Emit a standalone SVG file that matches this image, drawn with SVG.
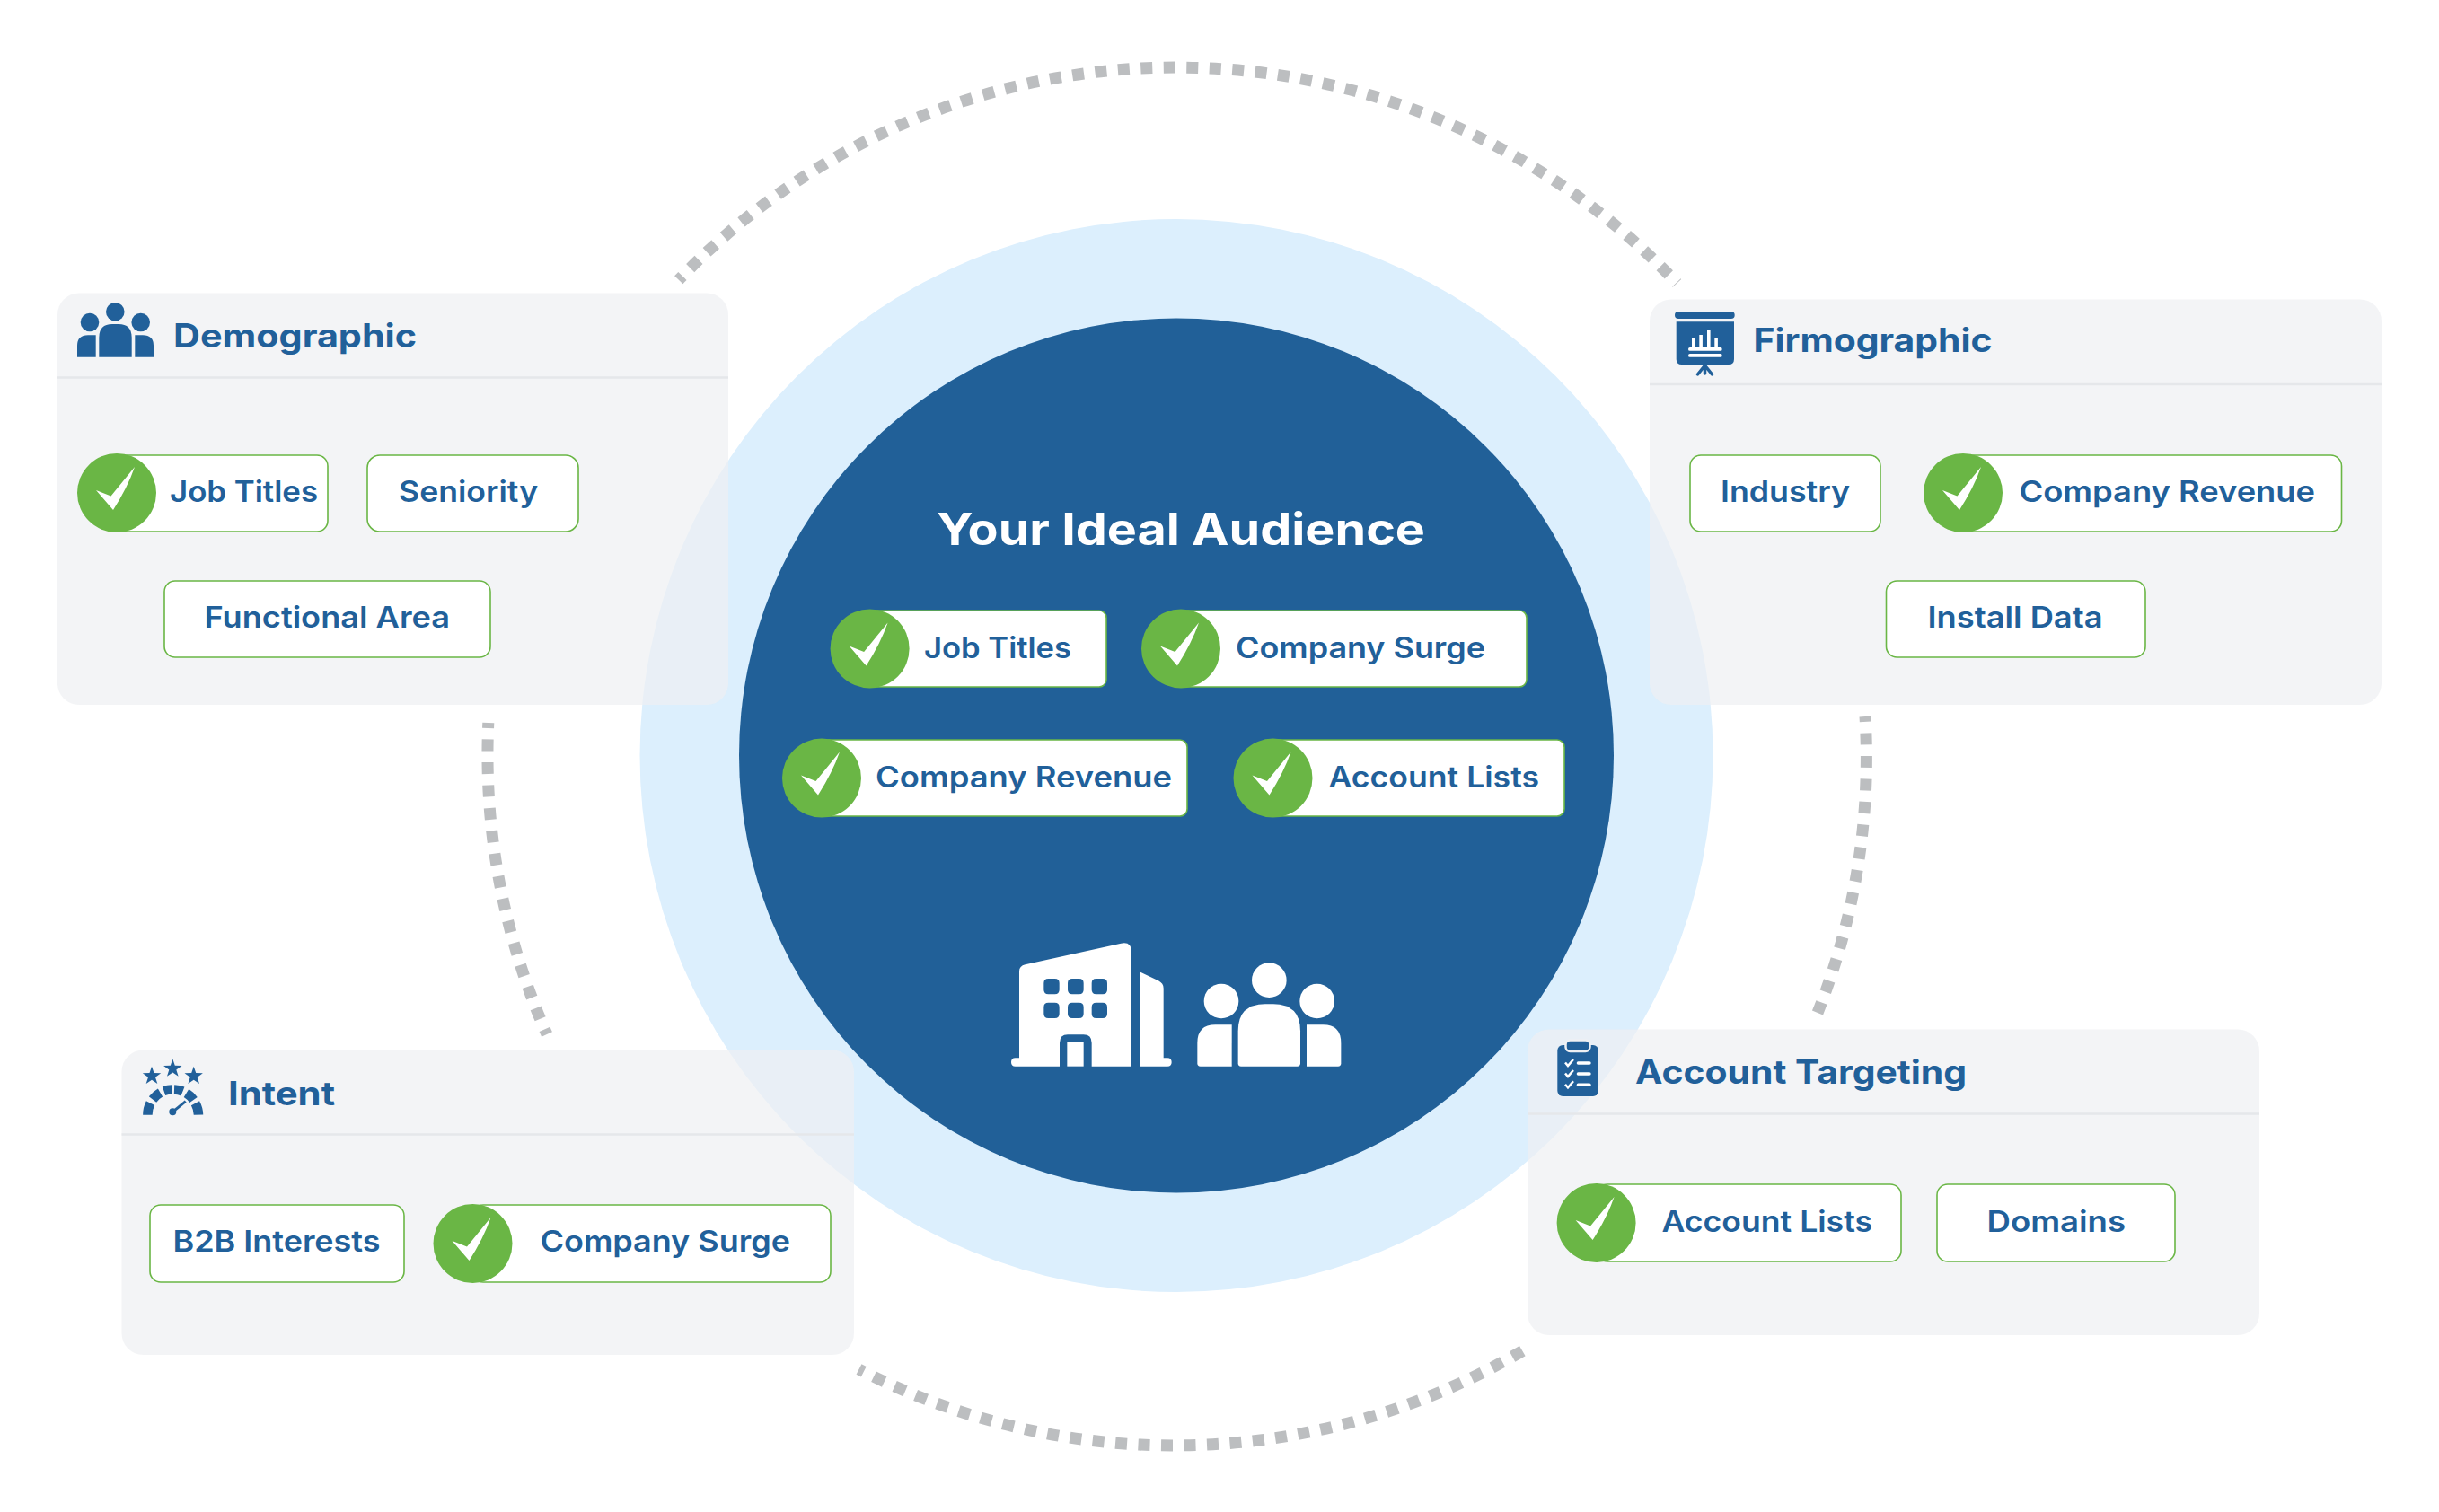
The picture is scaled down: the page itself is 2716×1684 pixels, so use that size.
<svg xmlns="http://www.w3.org/2000/svg" xmlns:xlink="http://www.w3.org/1999/xlink" width="2716" height="1684" viewBox="0 0 2716 1684">
<style>
text{font-family:"Inter","Open Sans","Liberation Sans",sans-serif;fill:#21609a;font-weight:600}
.lbl{font-size:32px}
.ttl{font-size:37px;font-weight:700}
.panel{fill:#eeeff2;fill-opacity:.7}
.div{stroke:#e5e7ea;stroke-width:2.5}
.pill{fill:#fff;stroke:#6ab645;stroke-width:1.600}
.dot{fill:#6ab645}
.arc{fill:none;stroke:#bcbec0;stroke-width:13;stroke-dasharray:13 12.500;stroke-dashoffset:7}
.ic{fill:#21609a}
.wh{fill:#fff}
</style>
<defs>
<g id="ck"><circle class="dot" r="44"/><path class="wh" d="M-23-3L-6.500 3.500L20-29Q12-6-4 19Z"/></g>
</defs>
<rect width="2716" height="1684" fill="#fff"/>
<g id="connectors">
<path class="arc" d="M755.800 311.700A767 767 0 0 1 1867.500 315.400"/>
<path class="arc" d="M543.800 805A767 767 0 0 0 609 1152"/>
<path class="arc" d="M2077 798A767 767 0 0 1 2024 1128"/>
<path class="arc" d="M956.500 1525A767 767 0 0 0 1703 1500"/>
</g>
<circle id="halo" cx="1310" cy="841.500" r="597.500" fill="#dceffd"/>
<g id="center">
<circle cx="1310" cy="841.500" r="487" fill="#216098"/>
<text x="1043" y="607" class="wh" style="font-size:50px;font-weight:700;fill:#fff" textLength="544" lengthAdjust="spacingAndGlyphs">Your Ideal Audience</text>
<g id="c-job"><rect class="pill" x="969" y="680" width="263" height="85" rx="8"/><use xlink:href="#ck" href="#ck" x="968.600" y="722.400"/><text class="lbl" x="1029" y="733" textLength="164" lengthAdjust="spacingAndGlyphs">Job Titles</text></g>
<g id="c-surge"><rect class="pill" x="1315" y="680" width="385" height="85" rx="8"/><use xlink:href="#ck" href="#ck" x="1315" y="722.400"/><text class="lbl" x="1376" y="733" textLength="278" lengthAdjust="spacingAndGlyphs">Company Surge</text></g>
<g id="c-rev"><rect class="pill" x="915" y="824" width="407" height="85" rx="8"/><use xlink:href="#ck" href="#ck" x="915" y="866.600"/><text class="lbl" x="975" y="877" textLength="330" lengthAdjust="spacingAndGlyphs">Company Revenue</text></g>
<g id="c-acc"><rect class="pill" x="1417" y="824" width="325" height="85" rx="8"/><use xlink:href="#ck" href="#ck" x="1417.500" y="866.600"/><text class="lbl" x="1479.500" y="877" textLength="234.500" lengthAdjust="spacingAndGlyphs">Account Lists</text></g>
<g id="c-icon" transform="translate(1100 1030) scale(.33333)">
<path class="wh" fill-rule="evenodd" d="M105 445V155Q105 138 125 133L445 62Q480 55 480 90V473H347V395Q347 367 320 367H267Q240 367 240 395V473H92Q78 473 78 459Q78 445 92 445ZM187 195V217Q187 232 202 232H224Q239 232 239 217V195Q239 180 224 180H202Q187 180 187 195ZM267 195V217Q267 232 282 232H305Q320 232 320 217V195Q320 180 305 180H282Q267 180 267 195ZM347 195V217Q347 232 362 232H384Q399 232 399 217V195Q399 180 384 180H362Q347 180 347 195ZM187 275V297Q187 312 202 312H224Q239 312 239 297V275Q239 260 224 260H202Q187 260 187 275ZM267 275V297Q267 312 282 312H305Q320 312 320 297V275Q320 260 305 260H282Q267 260 267 275ZM347 275V297Q347 312 362 312H384Q399 312 399 297V275Q399 260 384 260H362Q347 260 347 275Z"/>
<rect class="wh" x="265" y="392" width="55" height="81"/>
<path class="wh" d="M507 157L570 187Q587 196 587 212V445H600Q614 445 614 459Q614 473 600 473H507Z"/>
<circle class="wh" cx="940" cy="185" r="58"/><circle class="wh" cx="780" cy="255" r="58"/><circle class="wh" cx="1100" cy="255" r="58"/>
<path class="wh" d="M836 463V355Q836 265 926 265H954Q1044 265 1044 355V463Q1044 473 1034 473H846Q836 473 836 463Z"/>
<path class="wh" d="M700 463V395Q700 334 760 334H815V473H710Q700 473 700 463Z"/>
<path class="wh" d="M1180 463V395Q1180 334 1120 334H1065V473H1170Q1180 473 1180 463Z"/>
</g>
</g>
<g id="demographic">
<rect class="panel" x="64" y="326.500" width="747" height="458.500" rx="24"/>
<line class="div" x1="64" y1="420.500" x2="811" y2="420.500"/>
<g class="ic"><circle cx="128.300" cy="347.300" r="10.300"/><circle cx="100" cy="359" r="10.300"/><circle cx="156.700" cy="359" r="10.300"/>
<path d="M110.300 397.700V376Q110.300 361 125 361H132Q146.700 361 146.700 376V397.700Z"/><path d="M86 397.700V385Q86 373.300 98 373.300H106.700V397.700Z"/><path d="M171 397.700V385Q171 373.300 159 373.300H150.300V397.700Z"/></g>
<text class="ttl" x="193.100" y="386.700" textLength="271" lengthAdjust="spacingAndGlyphs">Demographic</text>
<g id="d-job"><rect class="pill" x="130" y="507" width="235" height="85" rx="12"/><use xlink:href="#ck" href="#ck" x="130" y="549"/><text class="lbl" x="189" y="559" textLength="165" lengthAdjust="spacingAndGlyphs">Job Titles</text></g>
<g id="d-sen"><rect class="pill" x="409" y="507" width="235" height="85" rx="14"/><text class="lbl" x="444.100" y="559" textLength="155" lengthAdjust="spacingAndGlyphs">Seniority</text></g>
<g id="d-fun"><rect class="pill" x="183" y="647" width="363" height="85" rx="12"/><text class="lbl" x="227.500" y="699" textLength="273.500" lengthAdjust="spacingAndGlyphs">Functional Area</text></g>
</g>
<g id="firmographic">
<rect class="panel" x="1837" y="333.500" width="815" height="451.500" rx="24"/>
<line class="div" x1="1837" y1="428" x2="2652" y2="428"/>
<rect class="ic" x="1865" y="347" width="66.700" height="8" rx="4"/>
<path class="ic" d="M1866.700 358.300H1931V400Q1931 406 1925 406H1872.700Q1866.700 406 1866.700 400Z"/>
<path d="M1898.500 406V416M1898.500 407L1890.500 417M1898.500 407L1906.500 417" stroke="#21609a" stroke-width="3.500" fill="none" stroke-linecap="round"/>
<g class="wh"><rect x="1884" y="377" width="4" height="12"/><rect x="1892.300" y="373" width="3.600" height="16"/><rect x="1901" y="367.300" width="3.600" height="22"/><rect x="1909.300" y="377" width="3.600" height="12"/><rect x="1880" y="387" width="37.700" height="3.800" rx="1.900"/><rect x="1880" y="394" width="37.700" height="3.800" rx="1.900"/></g>
<text class="ttl" x="1952.500" y="392" textLength="266" lengthAdjust="spacingAndGlyphs">Firmographic</text>
<g id="f-ind"><rect class="pill" x="1882" y="507" width="212" height="85" rx="12"/><text class="lbl" x="1916" y="559" textLength="144" lengthAdjust="spacingAndGlyphs">Industry</text></g>
<g id="f-rev"><rect class="pill" x="2186" y="507" width="421.500" height="85" rx="12"/><use xlink:href="#ck" href="#ck" x="2186" y="549"/><text class="lbl" x="2248.500" y="559" textLength="329.500" lengthAdjust="spacingAndGlyphs">Company Revenue</text></g>
<g id="f-ins"><rect class="pill" x="2100.500" y="647" width="288.500" height="85" rx="12"/><text class="lbl" x="2146.500" y="699" textLength="195" lengthAdjust="spacingAndGlyphs">Install Data</text></g>
</g>
<g id="intent">
<rect class="panel" x="135.500" y="1169.500" width="815.500" height="339.500" rx="24"/>
<line class="div" x1="135.500" y1="1263.500" x2="951" y2="1263.500"/>
<g class="ic">
<path d="M169 1187.800L171.500 1195.100L179.200 1195.200L173 1199.800L175.300 1207.100L169 1202.700L162.700 1207.100L165 1199.800L158.800 1195.200L166.500 1195.100Z"/>
<path d="M192.300 1179.500L194.800 1186.800L202.500 1186.900L196.300 1191.500L198.600 1198.800L192.300 1194.400L186 1198.800L188.300 1191.500L182.100 1186.900L189.800 1186.800Z"/>
<path d="M215.700 1187.800L218.200 1195.100L225.900 1195.200L219.700 1199.800L222 1207.100L215.700 1202.700L209.400 1207.100L211.700 1199.800L205.500 1195.200L213.200 1195.100Z"/>
<circle cx="192.300" cy="1238.300" r="4"/>
</g>
<path d="M164.400 1241.700A28.300 28.300 0 0 1 167.500 1228.700M170 1224.500A28.300 28.300 0 0 1 178.500 1217M182.500 1215A28.300 28.300 0 0 1 191.500 1213.500M194 1213.500A28.300 28.300 0 0 1 203.500 1215.500M207.500 1217.500A28.300 28.300 0 0 1 215.500 1225M217.500 1228.700A28.300 28.300 0 0 1 221 1241.700" fill="none" stroke="#21609a" stroke-width="10.500"/>
<line x1="192.300" y1="1238.300" x2="206.700" y2="1226.700" stroke="#21609a" stroke-width="3"/>
<text class="ttl" x="254" y="1231" textLength="119" lengthAdjust="spacingAndGlyphs">Intent</text>
<g id="i-b2b"><rect class="pill" x="167" y="1342" width="283" height="86" rx="12"/><text class="lbl" x="192.500" y="1394" textLength="231" lengthAdjust="spacingAndGlyphs">B2B Interests</text></g>
<g id="i-sur"><rect class="pill" x="526" y="1342" width="399" height="86" rx="12"/><use xlink:href="#ck" href="#ck" x="526.500" y="1385"/><text class="lbl" x="601.500" y="1394" textLength="278.500" lengthAdjust="spacingAndGlyphs">Company Surge</text></g>
</g>
<g id="account-targeting">
<rect class="panel" x="1701" y="1146.500" width="815" height="340.500" rx="24"/>
<line class="div" x1="1701" y1="1240.500" x2="2516" y2="1240.500"/>
<rect class="ic" x="1734.300" y="1164" width="45.700" height="57" rx="6"/>
<rect x="1743.500" y="1158.500" width="27" height="12.500" rx="5" fill="#21609a" stroke="#eef0f3" stroke-width="2.500"/>
<g fill="#fff"><rect x="1755.700" y="1182.300" width="16" height="3.500" rx="1.700"/><rect x="1755.700" y="1194.300" width="16" height="3.500" rx="1.700"/><rect x="1755.700" y="1206.600" width="16" height="3.500" rx="1.700"/></g>
<path d="M1743 1183.500L1746 1187L1752 1180M1743 1195.500L1746 1199L1752 1192M1743 1207.800L1746 1211.300L1752 1204.300" fill="none" stroke="#fff" stroke-width="2.500"/>
<text class="ttl" x="1821" y="1207" textLength="369" lengthAdjust="spacingAndGlyphs">Account Targeting</text>
<g id="a-acc"><rect class="pill" x="1778" y="1319" width="339" height="86" rx="12"/><use xlink:href="#ck" href="#ck" x="1777.600" y="1362"/><text class="lbl" x="1850.500" y="1372" textLength="234.500" lengthAdjust="spacingAndGlyphs">Account Lists</text></g>
<g id="a-dom"><rect class="pill" x="2157" y="1319" width="265" height="86" rx="12"/><text class="lbl" x="2212.500" y="1372" textLength="154.500" lengthAdjust="spacingAndGlyphs">Domains</text></g>
</g>
</svg>
